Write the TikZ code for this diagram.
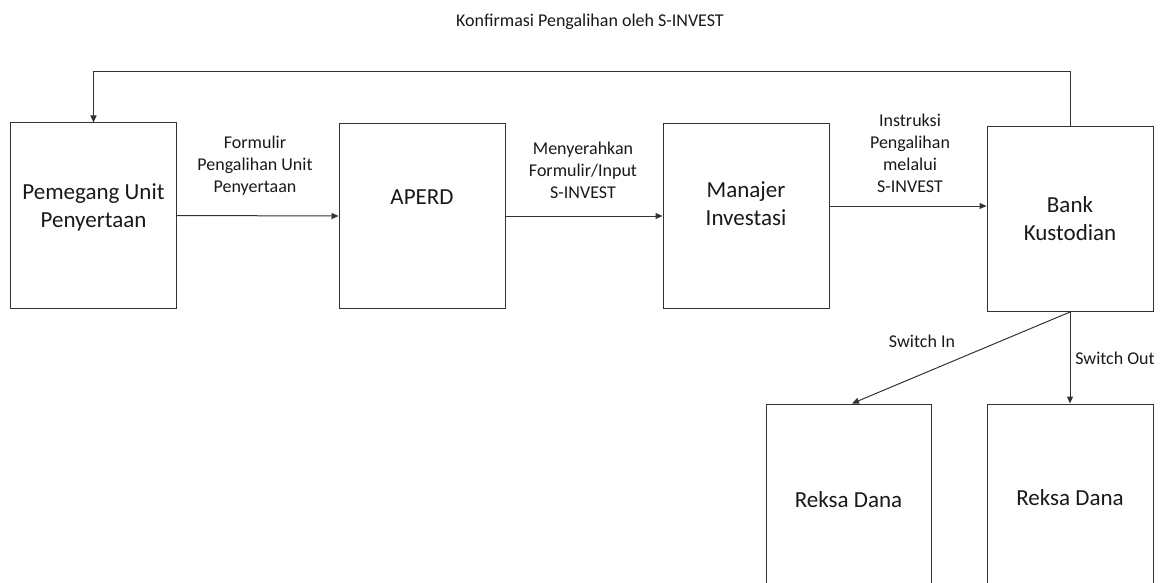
\documentclass[tikz,border=0pt]{standalone}
\usepackage{fontspec}
\setmainfont{Carlito}
\usetikzlibrary{arrows.meta}

\begin{document}
\begin{tikzpicture}[x=1pt,y=-1pt,
  box/.style={draw=black!80,line width=1pt,minimum width=166pt,minimum height=185pt,inner sep=0pt},
  boxtext/.style={align=center,text=black!90,font=\fontsize{23}{28}\selectfont},
  lbl/.style={align=center,text=black!90,font=\fontsize{18}{22}\selectfont},
  arr/.style={draw=black!80,line width=1pt,-{Triangle[length=7pt,width=6pt]}}]
  \clip (0,0) rectangle (1166,583);
  %%% boxes
  \node[box] (pemegang) at (93.5,215.5) {};
  \node[box] (aperd) at (422,216) {};
  \node[box] (manajer) at (746,216) {};
  \node[box] (bank) at (1070,219) {};
  \node[box,minimum width=165pt,minimum height=200pt] (reksa1) at (848.5,504) {};
  \node[box,minimum height=200pt] (reksa2) at (1070,504) {};
  %%% Edges:
  \draw[arr] (pemegang.east) -- (aperd.west);
  \draw[arr] (aperd.east) -- (manajer.west);
  \draw[arr] ([yshift=10pt]manajer.east) coordinate (m3) -- (m3 -| bank.west);
  \draw[arr] (bank.north) -- ++(0,-54) -| (pemegang.north);
  %%%
  \draw[arr] (bank.south) -- ([xshift=3.5pt]reksa1.north);
  \draw[arr] (bank.south) -- (reksa2.north);
  %%% text
  \node[boxtext] (pemegangtxt) at (93.5,207) {Pemegang Unit\\Penyertaan};
  \node[boxtext] (aperdtxt) at (422,197) {APERD};
  \node[boxtext] (manajertxt) at (746,204) {Manajer\\Investasi};
  \node[boxtext] (banktxt) at (1070,219) {Bank\\Kustodian};
  \node[boxtext] (reksa1txt) at (848.5,500) {Reksa Dana};
  \node[boxtext] (reksa2txt) at (1070,498) {Reksa Dana};
  %%%
  \node[lbl] (judul) at (590,22) {Konfirmasi Pengalihan oleh S-INVEST};
  \node[lbl] (formulir) at (255,166) {Formulir\\Pengalihan Unit\\Penyertaan};
  \node[lbl] (menyerahkan) at (583,170) {Menyerahkan\\Formulir/Input\\S-INVEST};
  \node[lbl] (instruksi) at (910,153) {Instruksi\\Pengalihan\\melalui\\S-INVEST};
  \node[lbl] (switchin) at (922,341) {Switch In};
  \node[lbl] (switchout) at (1115,358) {Switch Out};
\end{tikzpicture}
\end{document}
